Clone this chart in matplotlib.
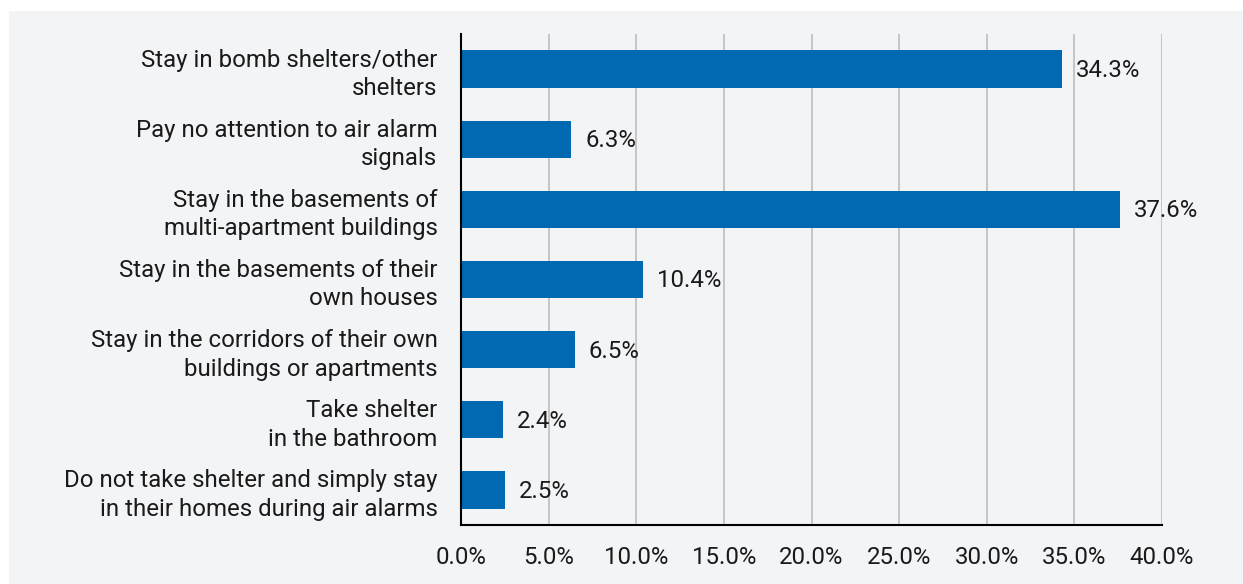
import matplotlib.pyplot as plt
from matplotlib.patches import Rectangle

# Survey answers, top to bottom
categories = [
    'Stay in bomb shelters/other\nshelters',
    'Pay no attention to air alarm\nsignals',
    'Stay in the basements of\nmulti-apartment buildings',
    'Stay in the basements of their\nown houses',
    'Stay in the corridors of their own\nbuildings or apartments',
    'Take shelter\nin the bathroom',
    'Do not take shelter and simply stay\nin their homes during air alarms',
]
shares = [34.3, 6.3, 37.6, 10.4, 6.5, 2.4, 2.5]
x_ticks = [0, 5, 10, 15, 20, 25, 30, 35, 40]

plt.rcParams['font.family'] = ['Roboto', 'DejaVu Sans']
text_color = '#1a1a1a'
bar_color = '#0069b2'
bg = '#f3f4f6'
fs = 17.3

fig = plt.figure(figsize=(12.43, 5.84), dpi=100)
fig.patch.set_facecolor('white')
fig.patches.append(Rectangle((9 / 1243, 0), 1, 1 - 11 / 584, transform=fig.transFigure,
                             facecolor=bg, edgecolor='none', zorder=-1))

ax = fig.add_axes([461 / 1243, 1 - 525 / 584, (1162 - 461) / 1243, (525 - 34) / 584])
ax.set_facecolor(bg)

pos = list(range(len(categories)))
ax.barh(pos, shares, height=0.53, color=bar_color)
for p, v in zip(pos, shares):
    ax.annotate(f'{v:.1f}%', (v, p), xytext=(10, -1), textcoords='offset points',
                va='center', ha='left', fontsize=fs, color=text_color)

ax.set_xlim(0, 40)
ax.set_ylim(len(categories) - 0.5, -0.5)
ax.set_xticks(x_ticks)
ax.set_xticklabels([f'{t:.1f}%' for t in x_ticks])
ax.set_yticks(pos)
ax.set_yticklabels(categories, linespacing=1.3)
ax.tick_params(axis='both', length=0, labelsize=fs, colors=text_color)
ax.tick_params(axis='y', pad=17)
ax.tick_params(axis='x', pad=15)

ax.grid(axis='x', color='#bdbdbd', linewidth=1.2)
ax.set_axisbelow(True)
for s in ['top', 'right']:
    ax.spines[s].set_visible(False)
for s in ['left', 'bottom']:
    ax.spines[s].set_color('black')
    ax.spines[s].set_linewidth(1.5)

fig.savefig('out.png', dpi=100, facecolor=fig.get_facecolor())
